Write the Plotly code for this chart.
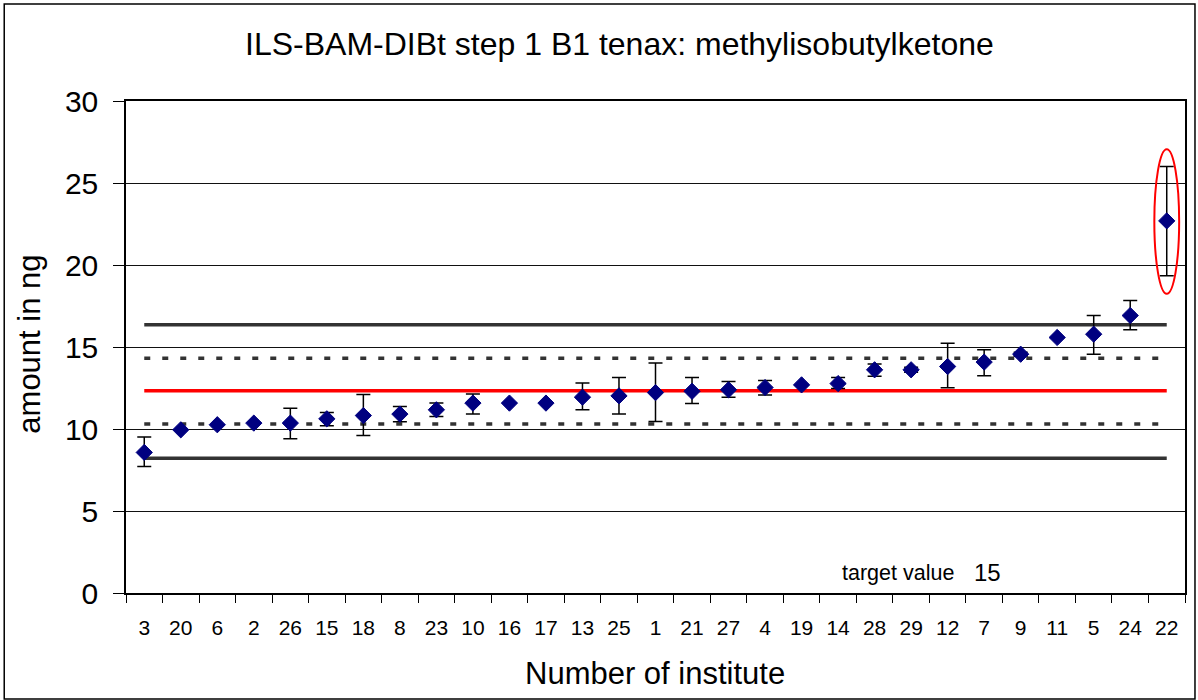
import plotly.graph_objects as go

# ---- data ----
institutes = ["3", "20", "6", "2", "26", "15", "18", "8", "23", "10", "16", "17", "13", "25", "1",
              "21", "27", "4", "19", "14", "28", "29", "12", "7", "9", "11", "5", "24", "22"]
amounts = [8.57, 9.95, 10.26, 10.36, 10.36, 10.62, 10.82, 10.91, 11.17, 11.58, 11.58, 11.58, 11.94, 12.02, 12.22,
           12.30, 12.39, 12.53, 12.69, 12.77, 13.61, 13.61, 13.81, 14.08, 14.56, 15.58, 15.78, 16.92, 22.69]
err_plus = [0.94, 0.0, 0.0, 0.0, 0.91, 0.39, 1.28, 0.46, 0.41, 0.55, 0.0, 0.0, 0.86, 1.12, 1.80,
            0.84, 0.50, 0.43, 0.0, 0.37, 0.36, 0.15, 1.42, 0.75, 0.12, 0.0, 1.14, 0.91, 3.31]
err_minus = [0.86, 0.0, 0.0, 0.0, 0.96, 0.42, 1.22, 0.47, 0.41, 0.67, 0.0, 0.0, 0.77, 1.11, 1.76,
             0.75, 0.45, 0.45, 0.0, 0.30, 0.39, 0.15, 1.30, 0.84, 0.12, 0.0, 1.22, 0.87, 3.35]

mean_value = 12.33
tolerance_low, tolerance_high = 10.30, 14.31
limit_low, limit_high = 8.22, 16.35
target_value = 15
outlier = "22"

y_ticks = [0, 5, 10, 15, 20, 25, 30]

# ---- geometry helpers (pixel -> paper) ----
L, R, T, B = 126, 11, 101, 107
FW, FH = 1198, 700
PW, PH = FW - L - R, FH - T - B


def px(x):
    return (x - L) / PW


def py(y):
    return (FH - B - y) / PH


FONT = "Liberation Sans, Arial, sans-serif"
fig = go.Figure()

first, last = institutes[0], institutes[-1]


def hline(v, color, dash=None, width=3.5):
    fig.add_trace(go.Scatter(x=[first, last], y=[v, v], mode="lines",
                             line=dict(color=color, width=width, dash=dash),
                             hoverinfo="skip", showlegend=False))


hline(limit_high, "#333333")
hline(limit_low, "#333333")
hline(tolerance_high, "#333333", dash="6px,12px")
hline(tolerance_low, "#333333", dash="6px,12px")
hline(mean_value, "#ff0000")

fig.add_trace(go.Scatter(
    x=institutes, y=amounts, mode="markers",
    marker=dict(symbol="diamond", size=12.5, color="#000080",
                line=dict(color="#000080", width=1)),
    error_y=dict(type="data", symmetric=False, array=err_plus, arrayminus=err_minus,
                 color="black", thickness=1.5, width=7),
    showlegend=False))

# red ellipse around the outlier
oi = institutes.index(outlier)
fig.add_shape(type="circle", xref="x", yref="y",
              x0=oi - 0.34, x1=oi + 0.34,
              y0=amounts[oi] - err_minus[oi] - 1.1, y1=amounts[oi] + err_plus[oi] + 1.06,
              line=dict(color="#ff0000", width=2))

# outer chart border
fig.add_shape(type="rect", xref="paper", yref="paper",
              x0=px(4), x1=px(1197), y0=py(699), y1=py(4),
              line=dict(color="black", width=1.5), layer="above")

fig.update_layout(
    width=FW, height=FH,
    margin=dict(l=L, r=R, t=T, b=B),
    paper_bgcolor="white", plot_bgcolor="white",
    font=dict(family=FONT, color="black"),
    showlegend=False,
    xaxis=dict(type="category", categoryorder="array", categoryarray=institutes,
               range=[-0.5, len(institutes) - 0.5],
               showgrid=False, showline=True, linecolor="black", linewidth=1.5, mirror=True,
               ticks="outside", tickson="boundaries", ticklen=8, tickcolor="black", tickwidth=1,
               tickfont=dict(size=21, family=FONT), ticklabelstandoff=15, zeroline=False),
    yaxis=dict(range=[0, 30], tickvals=y_ticks, ticktext=[str(v) for v in y_ticks],
               showgrid=True, gridcolor="#111111", gridwidth=1,
               showline=True, linecolor="black", linewidth=1.5, mirror=True,
               ticks="outside", ticklen=11, tickcolor="black", tickwidth=1,
               tickfont=dict(size=30, family=FONT), ticklabelstandoff=9, zeroline=False),
    annotations=[
        dict(text="ILS-BAM-DIBt step 1 B1 tenax: methylisobutylketone", xref="paper", yref="paper",
             x=px(620.5), y=py(44), xanchor="center", yanchor="middle", showarrow=False,
             font=dict(size=32, family=FONT)),
        dict(text="Number of institute", xref="paper", yref="paper",
             x=px(656), y=py(673), xanchor="center", yanchor="middle", showarrow=False,
             font=dict(size=31, family=FONT)),
        dict(text="amount in ng", xref="paper", yref="paper", textangle=-90,
             x=px(29), y=py(344.5), xanchor="center", yanchor="middle", showarrow=False,
             font=dict(size=31, family=FONT)),
        dict(text="target value", xref="paper", yref="paper",
             x=px(899), y=py(572.5), xanchor="center", yanchor="middle", showarrow=False,
             font=dict(size=21.5, family=FONT)),
        dict(text=str(target_value), xref="paper", yref="paper",
             x=px(989), y=py(572), xanchor="center", yanchor="middle", showarrow=False,
             font=dict(size=24, family=FONT)),
    ],
)

fig.write_html("out.html", config={"displayModeBar": False},
               post_script="document.body.style.margin='0px';")
